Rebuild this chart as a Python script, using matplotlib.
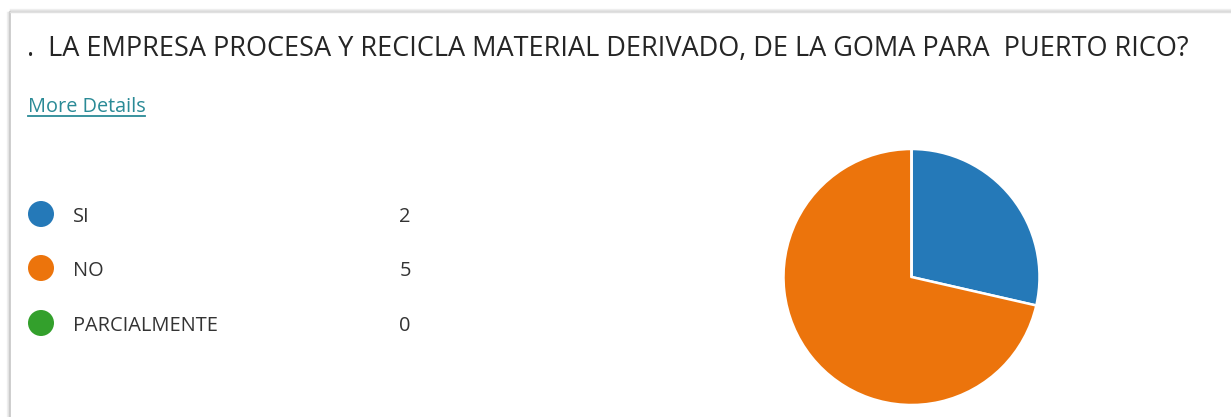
import matplotlib
matplotlib.use("Agg")
import matplotlib.pyplot as plt
from matplotlib.patches import Circle

categories = ["SI", "NO", "PARCIALMENTE"]
counts = [2, 5, 0]
colors = ["#2579b8", "#ec740c", "#33a02c"]
title = ".  LA EMPRESA PROCESA Y RECICLA MATERIAL DERIVADO, DE LA GOMA PARA  PUERTO RICO?"
link = "More Details"

W, H = 1231, 417
fig = plt.figure(figsize=(W / 100, H / 100), dpi=100)
fig.patch.set_facecolor("white")

# overlay axes in pixel coordinates
ov = fig.add_axes([0, 0, 1, 1])
ov.set_xlim(0, W)
ov.set_ylim(H, 0)
ov.axis("off")

# panel border with soft shadow
for off, c in [(3, "#f0f0f0"), (2, "#e6e6e6"), (1, "#dadada")]:
    ov.plot([10 - off, 10 - off], [12, H], color=c, lw=1)
    ov.plot([10, W], [12 - off, 12 - off], color=c, lw=1)
ov.plot([10, 10], [12, H], color="#c8c8c8", lw=1.2)
ov.plot([10, W], [12, 12], color="#e0e0e0", lw=1)

font = ["Open Sans", "DejaVu Sans"]
ov.text(27, 55.5, title, fontsize=19.5, color="#252525", family=font,
        va="baseline", ha="left")
ov.text(28, 111.5, link, fontsize=14.3, color="#2a8a96", family=font,
        va="baseline", ha="left")
ov.plot([28, 145], [115.5, 115.5], color="#2a8a96", lw=1.3)

ys = [214, 268, 323]
for cat, cnt, col, y in zip(categories, counts, colors, ys):
    ov.add_patch(Circle((41, y), 13, color=col, lw=0))
    ov.text(73, y + 8, cat, fontsize=14.4, color="#333333", family=font,
            va="baseline", ha="left")
    ov.text(405, y + 8, str(cnt), fontsize=14.4, color="#333333", family=font,
            va="baseline", ha="center")

# pie
cx, cy, r = 911.5, 277, 128
pa = fig.add_axes([(cx - r) / W, (H - cy - r) / H, 2 * r / W, 2 * r / H])
pa.pie(counts, colors=colors, startangle=90, counterclock=False,
       wedgeprops=dict(edgecolor="white", linewidth=1.8))
pa.set_xlim(-1, 1)
pa.set_ylim(-1, 1)
pa.set_aspect("equal")
pa.axis("off")

fig.savefig("out.png", dpi=100, facecolor="white")
